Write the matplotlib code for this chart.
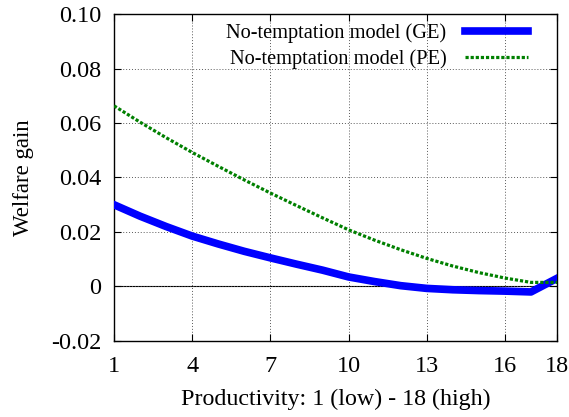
import numpy as np
from matplotlib import pyplot as plt

# productivity levels 1..18
productivity = np.arange(1, 19)

# welfare gain, no-temptation model, general equilibrium
gain_ge = [0.0300, 0.0258, 0.0220, 0.0185, 0.0156, 0.0129, 0.0105, 0.0082, 0.0060,
           0.0035, 0.0018, 0.0003, -0.0007, -0.0012, -0.0015, -0.0017, -0.0020, 0.0030]

# welfare gain, no-temptation model, partial equilibrium
gain_pe = [0.0663, 0.0603, 0.0546, 0.0492, 0.0441, 0.0391, 0.0343, 0.0297, 0.0252,
           0.0208, 0.0170, 0.0135, 0.0103, 0.0075, 0.0051, 0.0031, 0.0015, 0.0015]

xticks = [1, 4, 7, 10, 13, 16, 18]
yticks = [-0.02, 0, 0.02, 0.04, 0.06, 0.08, 0.10]
ytick_labels = ['-0.02', '0', '0.02', '0.04', '0.06', '0.08', '0.10']


def main():
  plt.rcParams['font.family'] = ['Liberation Serif', 'DejaVu Serif']
  plt.rcParams['font.size'] = 16

  fig = plt.figure(figsize=(5.69, 4.17), dpi=100)
  ax = fig.add_axes([0.2004, 0.1823, 0.7786, 0.7841])

  ax.axhline(0, color='black', lw=0.8, zorder=1)
  ax.plot(productivity, gain_ge, color='#0000ff', lw=5.5,
          label='No-temptation model (GE)', zorder=3)
  ax.plot(productivity, gain_pe, color='#008000', lw=2.3, linestyle=(0, (1, 0.6)),
          label='No-temptation model (PE)', zorder=4)

  ax.set_xlim(1, 18)
  ax.set_ylim(-0.02, 0.10)
  ax.set_xticks(xticks)
  ax.set_yticks(yticks)
  ax.set_yticklabels(ytick_labels)
  ax.tick_params(direction='in', top=True, right=True, length=5, width=0.8,
                 labelsize=17.5)
  ax.tick_params(axis='x', pad=11)
  ax.tick_params(axis='y', pad=9)
  ax.grid(True, color='0.35', linestyle=(0, (1, 2)), lw=0.7)

  for s in ax.spines.values():
    s.set_linewidth(1.0)

  ax.set_xlabel('Productivity: 1 (low) - 18 (high)', fontsize=17.3)
  ax.xaxis.set_label_coords(0.5, -0.145)
  ax.set_ylabel('Welfare gain', fontsize=16.5, va='center')
  ax.yaxis.set_label_coords(-0.205, 0.5)

  ax.legend(loc='upper right', frameon=False, markerfirst=False, handlelength=3.1,
            borderaxespad=0, borderpad=0, labelspacing=0.33, handletextpad=0.9,
            fontsize=14.7, bbox_to_anchor=(0.9345, 0.972))

  fig.savefig('out.png', dpi=100)


if __name__ == "__main__":
  main()
